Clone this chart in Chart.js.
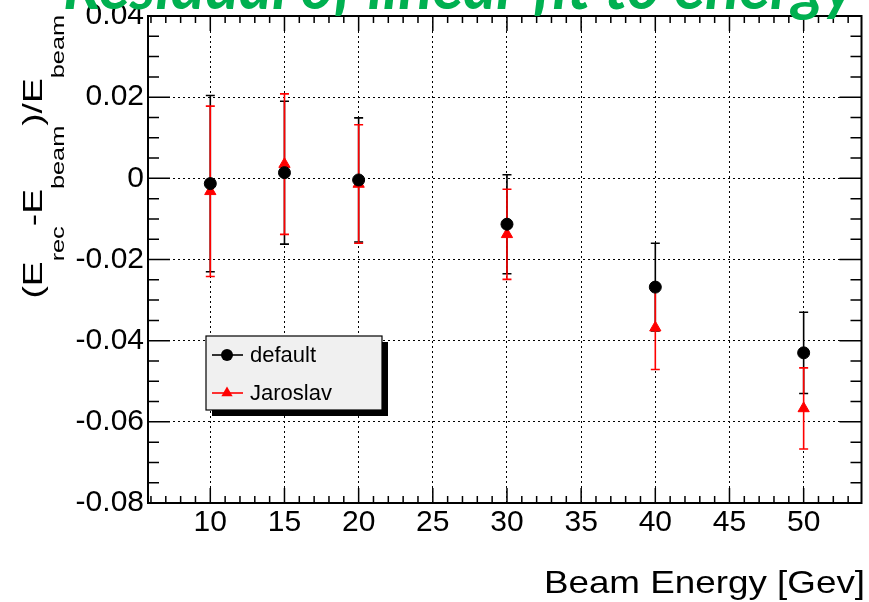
<!DOCTYPE html>
<html>
<head>
<meta charset="utf-8">
<script src="https://cdn.jsdelivr.net/npm/chart.js@4.4.1/dist/chart.umd.min.js"></script>
<style>
  html, body { margin: 0; padding: 0; background: #fff; }
</style>
</head>
<body>
<canvas id="chart" width="869" height="602"></canvas>
<script>
// Beam energies (GeV)
const energies = [10, 15, 20, 30, 40, 50];

// residuals of the "default" reconstruction and their errors
const defaultVals = [-0.0013, 0.0014, -0.0004, -0.0113, -0.0268, -0.0430];
const defaultErrs = [0.0217, 0.0176, 0.0153, 0.0122, 0.0108, 0.0100];

// residuals of the "Jaroslav" reconstruction and their errors
const jaroslavVals = [-0.0032, 0.0035, -0.0014, -0.0138, -0.0368, -0.0567];
const jaroslavErrs = [0.0210, 0.0173, 0.0146, 0.0111, 0.0103, 0.0100];

// axis ticks
const xTicks = [10, 15, 20, 25, 30, 35, 40, 45, 50];
const yTicks = [-0.08, -0.06, -0.04, -0.02, 0, 0.02, 0.04];
const yTickLabels = ["-0.08", "-0.06", "-0.04", "-0.02", "0", "0.02", "0.04"];

// texts
const titleText = "Residual of linear fit to energy";
const xTitle = "Beam Energy [Gev]";
const yTitleParts = [["(E", false], ["rec", true], ["-E", false], ["beam", true], [")/E", false], ["beam", true]];

const FONT = '"Liberation Sans", Arial, sans-serif';

// error bars under the markers
const errorBars = {
  id: "errorBars",
  beforeDatasetsDraw(chart) {
    const { ctx, scales: { x, y } } = chart;
    chart.data.datasets.forEach((ds) => {
      ctx.save();
      ctx.strokeStyle = ds.borderColor;
      ctx.lineWidth = 1.6;
      ds.data.forEach((p, i) => {
        const e = ds.errors[i];
        const px = x.getPixelForValue(p.x);
        const top = y.getPixelForValue(p.y + e);
        const bot = y.getPixelForValue(p.y - e);
        ctx.beginPath();
        ctx.moveTo(px, top);
        ctx.lineTo(px, bot);
        ctx.moveTo(px - 4.5, top);
        ctx.lineTo(px + 4.5, top);
        ctx.moveTo(px - 4.5, bot);
        ctx.lineTo(px + 4.5, bot);
        ctx.stroke();
      });
      ctx.restore();
    });
  },
};

// frame with inward ticks on all four sides
const frame = {
  id: "frame",
  afterDatasetsDraw(chart) {
    const { ctx, chartArea: a, scales: { x, y } } = chart;
    ctx.save();
    ctx.strokeStyle = "#000";
    ctx.lineWidth = 1.5;
    ctx.beginPath();
    for (let k = -16; k <= 8; k++) {
      const py = y.getPixelForValue(k * 0.005);
      const len = k % 4 === 0 ? 22 : 11;
      ctx.moveTo(a.left, py);
      ctx.lineTo(a.left + len, py);
      ctx.moveTo(a.right, py);
      ctx.lineTo(a.right - len, py);
    }
    for (let v = Math.ceil(x.min); v <= x.max; v++) {
      const px = x.getPixelForValue(v);
      const len = v % 5 === 0 ? 15 : 7;
      ctx.moveTo(px, a.bottom);
      ctx.lineTo(px, a.bottom - len);
      ctx.moveTo(px, a.top);
      ctx.lineTo(px, a.top + len);
    }
    ctx.stroke();
    ctx.lineWidth = 2;
    ctx.strokeRect(a.left, a.top, a.right - a.left, a.bottom - a.top);
    ctx.restore();
  },
};

// legend box inside the plot
const legendBox = {
  id: "legendBox",
  afterDraw(chart) {
    const { ctx } = chart;
    const bx = 206, by = 336, bw = 176, bh = 74;
    ctx.save();
    ctx.fillStyle = "#000";
    ctx.fillRect(bx + 6, by + 6, bw, bh);
    ctx.fillStyle = "#f0f0f0";
    ctx.fillRect(bx, by, bw, bh);
    ctx.strokeStyle = "#000";
    ctx.lineWidth = 1.2;
    ctx.strokeRect(bx, by, bw, bh);
    chart.data.datasets.forEach((ds, i) => {
      const cy = 355 + i * 38;
      ctx.strokeStyle = ds.borderColor;
      ctx.fillStyle = ds.backgroundColor;
      ctx.lineWidth = 1.6;
      ctx.beginPath();
      ctx.moveTo(212, cy);
      ctx.lineTo(243, cy);
      ctx.stroke();
      ctx.beginPath();
      if (ds.pointStyle === "triangle") {
        const r = ds.pointRadius;
        ctx.moveTo(227, cy - r);
        ctx.lineTo(227 + r * 0.866, cy + r / 2);
        ctx.lineTo(227 - r * 0.866, cy + r / 2);
        ctx.closePath();
      } else {
        ctx.arc(227, cy, ds.pointRadius, 0, Math.PI * 2);
      }
      ctx.fill();
      ctx.fillStyle = "#000";
      ctx.font = "22px " + FONT;
      ctx.textBaseline = "middle";
      ctx.fillText(ds.label, 250, cy + 1);
    });
    ctx.restore();
  },
};

// title and axis titles
const titles = {
  id: "titles",
  afterDraw(chart) {
    const { ctx } = chart;
    ctx.save();
    // green slide title, cut off at the top
    ctx.fillStyle = "#00b050";
    ctx.font = 'italic bold 40px Lato, "Open Sans", sans-serif';
    const size = (40 * 792) / ctx.measureText(titleText).width;
    ctx.font = "italic bold " + size + 'px Lato, "Open Sans", sans-serif';
    ctx.textBaseline = "alphabetic";
    ctx.fillText(titleText, 63, 9);

    // x axis title
    ctx.fillStyle = "#000";
    ctx.save();
    ctx.translate(865, 593);
    ctx.scale(1.15, 1);
    ctx.textAlign = "right";
    ctx.font = "32px " + FONT;
    ctx.fillText(xTitle, 0, 0);
    ctx.restore();

    // y axis title with subscripts
    const stretch = 1.33;
    let total = 0;
    yTitleParts.forEach(([t, sub]) => {
      ctx.font = (sub ? "19px " : "28px ") + FONT;
      total += ctx.measureText(t).width;
    });
    ctx.save();
    ctx.translate(42, 15 + total * stretch);
    ctx.rotate(-Math.PI / 2);
    ctx.scale(stretch, 1);
    let pos = 0;
    yTitleParts.forEach(([t, sub]) => {
      ctx.font = (sub ? "19px " : "28px ") + FONT;
      ctx.fillText(t, pos, sub ? 22 : 0);
      pos += ctx.measureText(t).width;
    });
    ctx.restore();
    ctx.restore();
  },
};

new Chart(document.getElementById("chart"), {
  type: "scatter",
  data: {
    datasets: [
      {
        label: "default",
        data: energies.map((e, i) => ({ x: e, y: defaultVals[i] })),
        errors: defaultErrs,
        pointStyle: "circle",
        pointRadius: 6,
        backgroundColor: "#000000",
        borderColor: "#000000",
        borderWidth: 1,
      },
      {
        label: "Jaroslav",
        data: energies.map((e, i) => ({ x: e, y: jaroslavVals[i] })),
        errors: jaroslavErrs,
        pointStyle: "triangle",
        pointRadius: 6.5,
        backgroundColor: "#ff0000",
        borderColor: "#ff0000",
        borderWidth: 1,
      },
    ],
  },
  options: {
    responsive: false,
    animation: false,
    events: [],
    layout: { padding: { top: 16, right: 4, left: 0, bottom: 0 } },
    plugins: { legend: { display: false }, tooltip: { enabled: false } },
    scales: {
      x: {
        type: "linear",
        min: 5.8,
        max: 53.9,
        afterBuildTicks: (s) => { s.ticks = xTicks.map((v) => ({ value: v })); },
        afterFit: (s) => { s.height = 99; s.paddingLeft = 0; s.paddingRight = 0; },
        ticks: {
          callback: (v) => String(v),
          font: { family: FONT, size: 30, lineHeight: 1 },
          color: "#000",
          padding: 5,
          maxRotation: 0,
          autoSkip: false,
        },
        grid: { color: "#000", lineWidth: 1, drawTicks: false },
        border: { display: false, dash: [2, 3] },
      },
      y: {
        type: "linear",
        min: -0.08,
        max: 0.04,
        afterBuildTicks: (s) => { s.ticks = yTicks.map((v) => ({ value: v })); },
        afterFit: (s) => { s.width = 148; s.paddingTop = 0; s.paddingBottom = 0; },
        ticks: {
          callback: (v, i) => yTickLabels[i],
          font: { family: FONT, size: 30, lineHeight: 1 },
          color: "#000",
          padding: 4,
          autoSkip: false,
        },
        grid: { color: "#000", lineWidth: 1, drawTicks: false },
        border: { display: false, dash: [2, 3] },
      },
    },
  },
  plugins: [errorBars, frame, legendBox, titles],
});
</script>
</body>
</html>
